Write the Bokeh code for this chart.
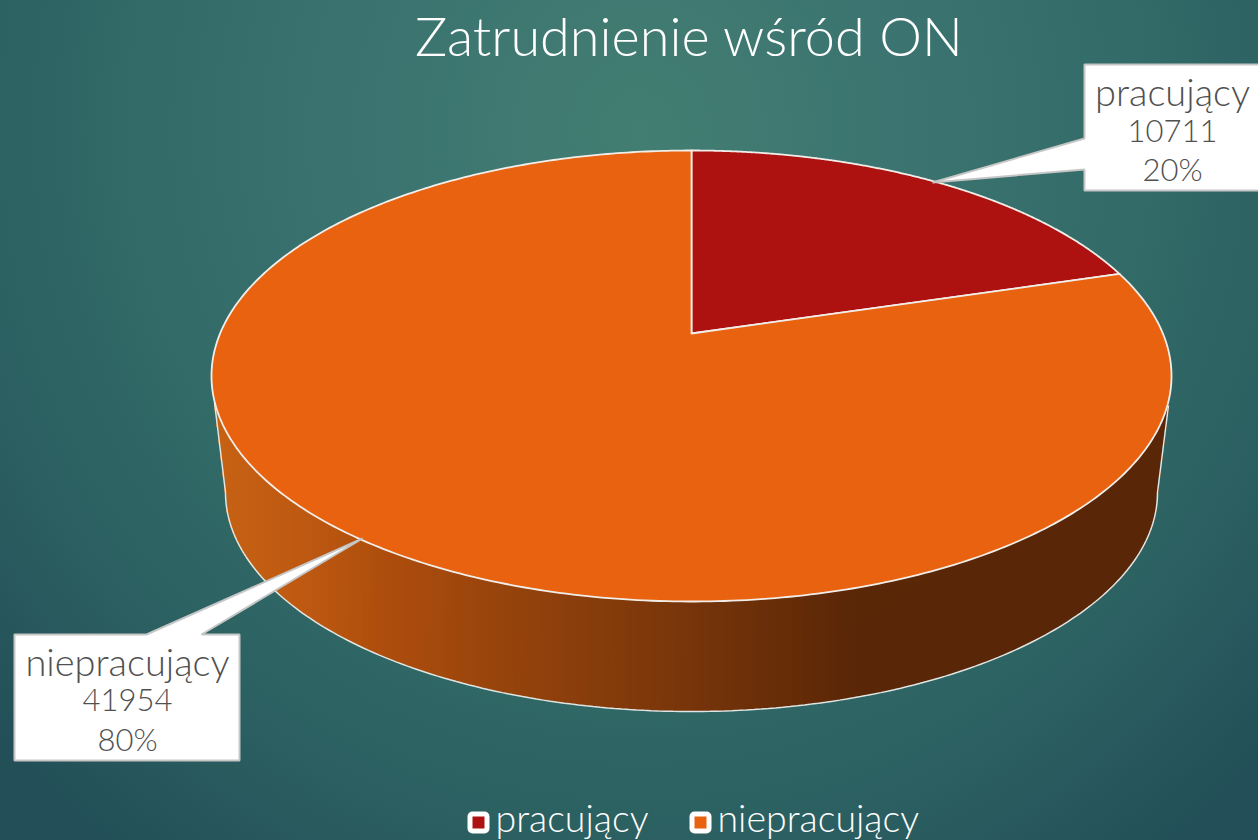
import numpy as np
from bokeh.plotting import figure
from bokeh.embed import file_html
from bokeh.resources import INLINE
from bokeh.core.properties import value
from bokeh.models import GlobalInlineStyleSheet

title_text = "Zatrudnienie wśród ON"
categories = ["pracujący", "niepracujący"]
values = [10711, 41954]
colors = ["#ad1210", "#e8620f"]

FONT = value("Lato Light, Lato")
GREY = "#505050"

p = figure(width=1258, height=840, x_range=(0, 1258), y_range=(840, 0),
           toolbar_location=None, output_backend="svg", min_border=0,
           background_fill_alpha=0, border_fill_alpha=0, outline_line_color=None)
p.axis.visible = False
p.grid.visible = False
p.stylesheets = [GlobalInlineStyleSheet(css=(
    "html{overflow:hidden;height:100%;background:"
    "radial-gradient(ellipse 860px 900px at 640px 130px,"
    "#437e72 0%,#3b7470 30%,#316a67 60%,#2b5f61 80%,#235058 100%) no-repeat #235058;}"
    "body{background:transparent;margin:0;}"))]

# projection of the tilted pie top
cx, apex_y = 691.0, 333.0
k, R, S = 0.1885, 471.4, 217.5


def top_xy(theta):
    w = 1 + k * np.cos(theta)
    return cx + R * np.sin(theta) / w, apex_y - S * np.cos(theta) / w


# side wall
top_cy, top_rx, top_ry = 375.5, 480.0, 225.5
low_cy, low_rx, low_ry = 492.0, 466.0, 219.0
left_join, right_join = (214.0, 402.0), (1168.0, 405.0)
grad_x = [226, 300, 380, 500, 600, 720, 860, 1170]
grad_r = [0xcc, 0xc4, 0xb4, 0x9c, 0x8a, 0x76, 0x5c, 0x5c]
grad_g = [0x60, 0x59, 0x4d, 0x43, 0x3b, 0x31, 0x25, 0x25]
grad_b = [0x10, 0x0e, 0x0a, 0x09, 0x08, 0x07, 0x04, 0x04]

xs = np.arange(left_join[0], right_join[0], 2.0)
u_top = np.clip((xs + 1 - cx) / top_rx, -1, 1)
y_top = top_cy + top_ry * np.sqrt(1 - u_top ** 2)
u_low = (xs + 1 - cx) / low_rx
y_low = low_cy + low_ry * np.sqrt(np.clip(1 - u_low ** 2, 0, 1))
mask_l = xs + 1 < cx - low_rx
mask_r = xs + 1 > cx + low_rx
y_low[mask_l] = np.interp(xs[mask_l] + 1, [left_join[0], cx - low_rx], [left_join[1], low_cy])
y_low[mask_r] = np.interp(xs[mask_r] + 1, [cx + low_rx, right_join[0]], [low_cy, right_join[1]])
strip_colors = ["#%02x%02x%02x" % (int(np.interp(x, grad_x, grad_r)),
                                   int(np.interp(x, grad_x, grad_g)),
                                   int(np.interp(x, grad_x, grad_b))) for x in xs]
p.quad(left=xs - 0.3, right=xs + 2.3, top=y_top - 3, bottom=y_low,
       fill_color=strip_colors, line_color=None)
t = np.linspace(np.pi, 0, 200)
edge_x = np.concatenate([[left_join[0]], cx + low_rx * np.cos(t), [right_join[0]]])
edge_y = np.concatenate([[left_join[1]], low_cy + low_ry * np.sin(t), [right_join[1]]])
p.line(edge_x, edge_y, line_color="#dfe6e4", line_width=1.5)

# slices, from the values
fractions = np.array(values, dtype=float) / sum(values)
start = 0.0
for frac, col in zip(fractions, colors):
    th = np.linspace(start, start + frac * 2 * np.pi, 400)
    x, y = top_xy(th)
    p.patch(np.concatenate([[cx], x]), np.concatenate([[apex_y], y]),
            fill_color=col, line_color="#f1eeea", line_width=1.8, line_join="round")
    start += frac * 2 * np.pi


def callout(xp, yp, tx, lines_y, cat, val, frac):
    p.patch(xp, yp, fill_color="white", line_color="#c6c6c6", line_width=2)
    p.text(x=[tx], y=lines_y[:1], text=[cat], text_font=FONT, text_font_size="38px",
           text_color=GREY, text_align="center", text_baseline="middle")
    p.text(x=[tx, tx], y=lines_y[1:], text=[str(val), f"{round(frac * 100)}%"], text_font=FONT,
           text_font_size="31px", text_color=GREY, text_align="center", text_baseline="middle")


callout([1084, 1262, 1262, 1084, 1084, 932, 1084], [64, 64, 190, 190, 169, 182, 138],
        1172, [90, 130, 168], categories[0], values[0], fractions[0])
callout([14, 146, 362, 201, 239, 239, 14], [634, 634, 538, 634, 634, 760, 760],
        127, [660, 699, 738], categories[1], values[1], fractions[1])

# title
p.text(x=[689], y=[35], text=[title_text], text_font=FONT, text_font_size="54px",
       text_color="white", text_align="center", text_baseline="middle")

# legend
for cat, col, bx, tx in zip(categories, colors, [472, 694], [495, 717]):
    p.quad(left=[bx], right=[bx + 12], top=[816], bottom=[828], fill_color="white",
           line_color="white", line_width=10, line_join="round")
    p.quad(left=[bx], right=[bx + 12], top=[816], bottom=[828], fill_color=col, line_color=None)
    p.text(x=[tx], y=[817], text=[cat], text_font=FONT, text_font_size="37.5px",
           text_color="white", text_align="left", text_baseline="middle")

open("out.html", "w").write(file_html(p, INLINE))
